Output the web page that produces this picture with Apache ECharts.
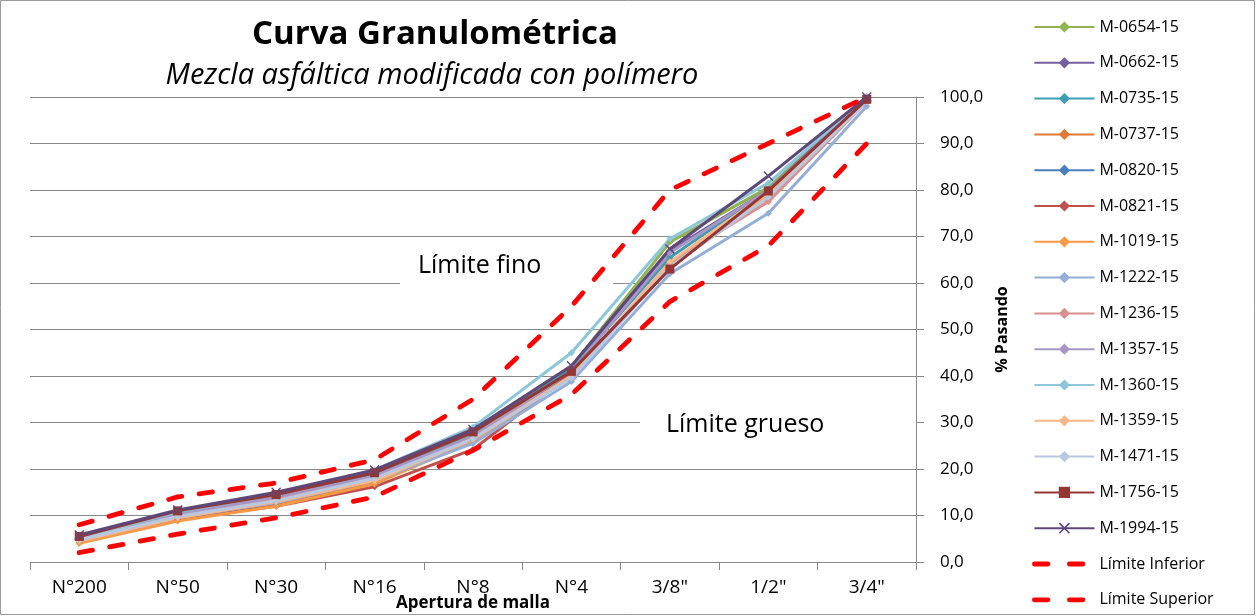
<!DOCTYPE html>
<html>
<head>
<meta charset="utf-8">
<script src="https://cdn.jsdelivr.net/npm/echarts@6/dist/echarts.min.js"></script>
<style>
html,body{margin:0;padding:0;background:#fff;}
#chart{width:1256px;height:616px;}
</style>
</head>
<body>
<div id="chart"></div>
<script>
const categories = ['N°200','N°50','N°30','N°16','N°8','N°4','3/8"','1/2"','3/4"'];
const yTicks = [0,10,20,30,40,50,60,70,80,90,100];

const sampleNames = ['M-0654-15','M-0662-15','M-0735-15','M-0737-15','M-0820-15','M-0821-15','M-1019-15','M-1222-15','M-1236-15','M-1357-15','M-1360-15','M-1359-15','M-1471-15','M-1756-15','M-1994-15'];
const sampleColors = ['#8FB34E','#7460A0','#3E9DB5','#E07A35','#4A7EBB','#C0504D','#F79A48','#94AED6','#D8908E','#A896C4','#8CC6D8','#F8B88A','#B8C8E2','#943634','#5F4879'];

const m0654 = [5.0, 10.2, 14.0, 18.8, 27.5, 42.0, 68.8, 80.5, 100.0];
const m0662 = [5.2, 10.5, 14.3, 19.0, 27.8, 42.0, 67.0, 80.0, 100.0];
const m0735 = [5.0, 10.3, 14.2, 19.2, 28.0, 41.5, 65.5, 80.0, 99.5];
const m0737 = [4.2, 9.0, 12.2, 17.0, 26.0, 40.0, 63.5, 78.5, 99.5];
const m0820 = [4.8, 10.0, 13.5, 18.0, 26.5, 40.5, 64.0, 79.0, 99.5];
const m0821 = [4.5, 9.2, 12.0, 16.2, 24.2, 40.5, 63.5, 79.0, 99.5];
const m1019 = [4.0, 8.8, 12.0, 16.8, 26.0, 40.0, 64.0, 79.0, 99.5];
const m1222 = [4.5, 9.5, 12.8, 17.5, 25.5, 38.8, 62.0, 75.0, 98.0];
const m1236 = [4.8, 10.0, 13.5, 18.0, 26.5, 40.0, 64.5, 77.5, 99.0];
const m1357 = [5.0, 10.2, 14.0, 18.5, 27.0, 41.0, 66.5, 80.0, 99.5];
const m1360 = [5.2, 10.8, 14.6, 19.8, 29.0, 45.0, 69.5, 81.5, 100.0];
const m1359 = [4.5, 9.5, 13.0, 17.5, 26.5, 40.0, 64.5, 79.5, 99.5];
const m1471 = [4.8, 9.8, 13.2, 18.0, 26.5, 39.5, 63.5, 78.5, 99.0];
const m1756 = [5.5, 11.0, 14.5, 19.2, 28.0, 41.0, 63.0, 79.8, 99.5];
const m1994 = [5.8, 11.2, 15.0, 19.8, 28.5, 42.2, 67.3, 83.0, 100.0];
const sampleValues = [m0654,m0662,m0735,m0737,m0820,m0821,m1019,m1222,m1236,m1357,m1360,m1359,m1471,m1756,m1994];

const limiteInferior = [2.0, 6.0, 9.5, 14.0, 24.0, 36.0, 56.0, 68.0, 90.0];
const limiteSuperior = [8.0, 14.0, 17.0, 22.0, 35.0, 55.0, 80.0, 90.0, 100.0];

const FONT = '"Open Sans", "Noto Sans", sans-serif';
const xPath = 'path://M1,0 L5,4 L9,0 L10,1 L6,5 L10,9 L9,10 L5,6 L1,10 L0,9 L4,5 L0,1 Z';

const series = sampleNames.map((name, i) => {
  let symbol = 'diamond', size = 7;
  if (name === 'M-1756-15') { symbol = 'rect'; size = 9; }
  if (name === 'M-1994-15') { symbol = xPath; size = 10; }
  return {
    name, type: 'line', data: sampleValues[i],
    symbol, symbolSize: size, showSymbol: true,
    lineStyle: { width: 3, color: sampleColors[i] },
    itemStyle: { color: sampleColors[i] },
    emphasis: { disabled: true }, z: 2
  };
});
const limitNames = ['Límite Inferior', 'Límite Superior'];
[limiteInferior, limiteSuperior].forEach((data, k) => {
  series.push({
    name: limitNames[k], type: 'line', data, symbol: 'none', showSymbol: false,
    lineStyle: { width: 4.8, color: '#FF0000', type: [13.5, 17.5], cap: 'round' },
    itemStyle: { color: '#FF0000' }, emphasis: { disabled: true }, z: 3
  });
});

const legendData = sampleNames.map(n => ({ name: n })).concat(limitNames.map(n => ({
  name: n, itemStyle: { opacity: 0 },
  lineStyle: { type: [13.5, 21.5], width: 4.8, cap: 'round', color: '#FF0000' }
})));

const chart = echarts.init(document.getElementById('chart'));
chart.setOption({
  animation: false,
  backgroundColor: '#fff',
  title: [
    { text: 'Curva Granulométrica', left: 430, top: 13, textAlign: 'center',
      textStyle: { fontFamily: FONT, fontSize: 33, fontWeight: 'bold', color: '#000' } },
    { text: 'Mezcla asfáltica modificada con polímero', left: 427, top: 56, textAlign: 'center',
      textStyle: { fontFamily: FONT, fontSize: 29, fontStyle: 'italic', fontWeight: 'normal', color: '#000' } }
  ],
  legend: {
    orient: 'vertical', left: 1027, top: 14,
    itemWidth: 60, itemHeight: 14, itemGap: 19.8,
    textStyle: { fontFamily: FONT, fontSize: 16, color: '#000' },
    data: legendData
  },
  grid: { left: 30, right: 340, top: 97, bottom: 54, outerBoundsMode: 'none', containLabel: false },
  xAxis: {
    type: 'category', data: categories,
    name: 'Apertura de malla', nameLocation: 'middle', nameGap: 33, nameMoveOverlap: false,
    nameTextStyle: { fontFamily: FONT, fontSize: 17, fontWeight: 'bold', color: '#000' },
    axisLine: { lineStyle: { color: '#888', width: 1 } },
    axisTick: { show: true, length: 8, lineStyle: { color: '#888' } },
    axisLabel: { fontFamily: FONT, fontSize: 19, color: '#000', margin: 16 },
    splitLine: { show: false }
  },
  yAxis: {
    type: 'value', position: 'right', min: 0, max: 100, interval: 10,
    name: '% Pasando', nameLocation: 'middle', nameGap: 52, nameRotate: 90,
    nameTextStyle: { fontFamily: FONT, fontSize: 16, fontWeight: 'bold', color: '#000' },
    axisLine: { show: true, lineStyle: { color: '#888', width: 1 } },
    axisTick: { show: true, length: 8, lineStyle: { color: '#888' } },
    axisLabel: { fontFamily: FONT, fontSize: 17, color: '#000', margin: 24,
      formatter: v => v.toFixed(1).replace('.', ',') },
    splitLine: { show: true, lineStyle: { color: '#888', width: 1 } }
  },
  graphic: [
    { type: 'rect', z: 1, shape: { x: 0.5, y: 0.5, width: 1254, height: 614 },
      style: { fill: 'none', stroke: '#999', lineWidth: 1 }, silent: true },
    { type: 'rect', z: 1, shape: { x: 400, y: 250, width: 213, height: 40 },
      style: { fill: '#fff' }, silent: true },
    { type: 'text', z: 1, left: 418, top: 253,
      style: { text: 'Límite fino', fontFamily: FONT, fontSize: 25, fill: '#000' } },
    { type: 'rect', z: 1, shape: { x: 640, y: 412, width: 276, height: 26 },
      style: { fill: '#fff' }, silent: true },
    { type: 'text', z: 1, left: 666, top: 412,
      style: { text: 'Límite grueso', fontFamily: FONT, fontSize: 25, fill: '#000' } },
    { type: 'rect', z: 1, shape: { x: 660, y: 439, width: 180, height: 12 },
      style: { fill: '#fff' }, silent: true }
  ],
  series
});
</script>
</body>
</html>
